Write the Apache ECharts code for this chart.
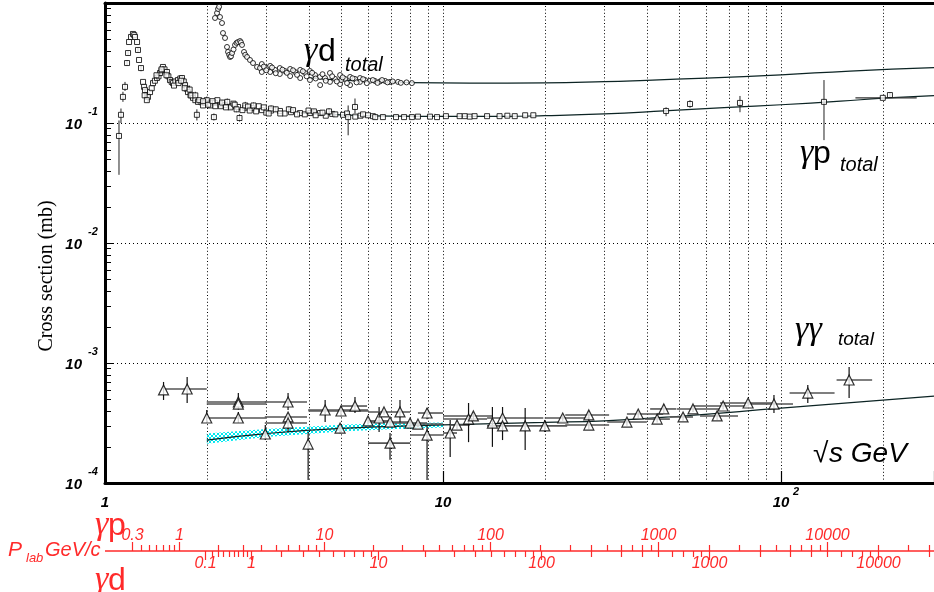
<!DOCTYPE html>
<html><head><meta charset="utf-8">
<script src="https://cdn.jsdelivr.net/npm/echarts@6/dist/echarts.min.js"></script>
<style>html,body{margin:0;padding:0;background:#fff}#c{width:934px;height:592px}</style>
</head><body><div id="c"></div>
<script>
// ---------- axis ranges & ticks ----------
const X_MIN = 1, X_MAX = 283.5, Y_MIN = 1e-4, Y_MAX = 1;
const X_GRID = [2,3,4,5,6,7,8,9,10,20,30,40,50,60,70,80,90,100,200];
const Y_GRID = [1e-1,1e-2,1e-3];
const X_LABELS = [[1,'1',''],[10,'10',''],[100,'10','2']];
const Y_LABELS = [[1e-1,'-1'],[1e-2,'-2'],[1e-3,'-3'],[1e-4,'-4']];
const Y_MINOR = [2e-4,3e-4,4e-4,5e-4,6e-4,7e-4,8e-4,9e-4,
                 2e-3,3e-3,4e-3,5e-3,6e-3,7e-3,8e-3,9e-3,
                 2e-2,3e-2,4e-2,5e-2,6e-2,7e-2,8e-2,9e-2,
                 0.2,0.3,0.4,0.5,0.6,0.7,0.8,0.9];
// lab-momentum scales (GeV/c)
const M_P = 0.93827, M_D = 1.87561;
const GP_TICKS = [0.3,0.4,0.5,0.6,0.7,0.8,0.9,1,2,3,4,5,6,7,8,9,10,20,30,40,50,60,70,80,90,
  100,200,300,400,500,600,700,800,900,1000,2000,3000,4000,5000,6000,7000,8000,9000,10000,20000,30000,40000];
const GP_LABELS = ['0.3','1','10','100','1000','10000'];
const GD_TICKS = [0.1,0.2,0.3,0.4,0.5,0.6,0.7,0.8,0.9,1,2,3,4,5,6,7,8,9,10,20,30,40,50,60,70,80,90,
  100,200,300,400,500,600,700,800,900,1000,2000,3000,4000,5000,6000,7000,8000,9000,10000,20000];
const GD_LABELS = ['0.1','1','10','100','1000','10000'];

// ---------- gamma p total: [sqrt_s, sigma(mb), err_lo, err_hi] ----------
const GP = [
 [1.100,0.078,0.037,0.105],[1.115,0.117,0.100,0.132],[1.130,0.165,0.150,0.182],[1.146,0.200,0.185,0.220],
 [1.162,0.316,0.300,0.335],[1.170,0.383,0.365,0.400],[1.178,0.473],[1.194,0.521],[1.210,0.552],[1.220,0.540],
 [1.227,0.521],[1.244,0.473],[1.252,0.406,0.385,0.425],[1.261,0.335],[1.278,0.287,0.270,0.300],[1.296,0.220],
 [1.305,0.200],[1.313,0.188,0.172,0.205],[1.330,0.170,0.158,0.182],[1.340,0.165,0.150,0.178],[1.359,0.181],
 [1.375,0.195],[1.387,0.215],[1.405,0.225],[1.425,0.237],[1.440,0.245],[1.455,0.261],[1.470,0.275],
 [1.484,0.293],[1.500,0.280],[1.525,0.266],[1.540,0.245],[1.557,0.228],[1.575,0.220],[1.589,0.215],
 [1.615,0.222],[1.644,0.228],[1.670,0.235],[1.690,0.237],[1.710,0.222],[1.725,0.207],[1.745,0.193],
 [1.760,0.181],[1.790,0.170],[1.821,0.162],[1.850,0.155],[1.884,0.150],[1.930,0.149],[1.977,0.147],
 [2.050,0.146],[2.116,0.147],[2.190,0.143],[2.265,0.141],[2.370,0.138],[2.475,0.136],[2.600,0.134],
 [2.722,0.133],[2.913,0.128],[3.100,0.127],[3.294,0.126],[3.550,0.123],[3.776,0.121],[4.050,0.121],
 [4.326,0.121],[4.700,0.119],[5.060,0.117],[5.700,0.115],[6.200,0.114],
 [1.310,0.170],[1.330,0.155],[1.420,0.250],[1.470,0.280],[1.520,0.250],[1.600,0.205],[1.650,0.215],
 [1.680,0.225],[1.720,0.195],[1.780,0.190,0.175,0.205],[1.800,0.170],[1.850,0.170,0.160,0.182],[1.900,0.155],
 [1.950,0.140],[2.000,0.155,0.145,0.166],[2.050,0.140],[2.150,0.155],[2.200,0.138],[2.300,0.150,0.140,0.160],
 [2.350,0.135],[2.400,0.145],[2.550,0.128],[2.600,0.140,0.132,0.150],[2.800,0.125],[2.850,0.138],
 [3.000,0.122],[3.100,0.132,0.125,0.140],[3.400,0.120],[3.500,0.130,0.123,0.138],[3.900,0.118],
 [4.000,0.127],[4.500,0.115],[4.600,0.125,0.118,0.133],[4.800,0.118],[5.500,0.113],[6.000,0.116],[6.300,0.112],
 [1.950,0.152],[2.020,0.142,0.135,0.150],[2.080,0.152],[2.120,0.138],[2.220,0.148,0.140,0.156],[2.280,0.135],
 [2.420,0.142],[2.450,0.130,0.123,0.137],[2.650,0.137],[2.680,0.127],[2.750,0.140,0.132,0.148],[2.950,0.135],
 [3.050,0.120],[3.200,0.130,0.124,0.137],[3.300,0.120],[3.600,0.128],[3.700,0.118],[4.150,0.125,0.119,0.131],
 [4.200,0.116],[4.400,0.122],[5.200,0.120],[5.800,0.118],
 [1.870,0.117,0.105,0.130],[2.100,0.112,0.105,0.120],[2.500,0.110,0.103,0.118],
 [5.240,0.112,0.079,0.140],[5.490,0.136,0.120,0.160],
 [6.64,0.112],[7.26,0.112],[7.67,0.112],[8.09,0.112],[8.43,0.113],[9.15,0.113],[9.60,0.112],[10.2,0.114],
 [11.2,0.114],[11.6,0.114],[12.0,0.113],[12.4,0.114],[13.5,0.114],[14.7,0.114],[15.5,0.115],[16.3,0.114],
 [17.5,0.116],[18.5,0.116],
 [45.7,0.126,0.114,0.135],[53.8,0.144,0.134,0.155],[75.6,0.147,0.123,0.168],[134,0.150,0.072,0.228],
 [200,0.162],[210,0.171,0.163,0.180]
];
// horizontal error: [sqrt_s, sigma, x_lo, x_hi]
const GP_XERR = [[200,0.162,166,252]];

// ---------- gamma d total: [sqrt_s, sigma(mb)] ----------
const GD = [
 [2.116,0.750],[2.145,0.825],[2.160,0.891],[2.175,0.930],[2.189,0.764],[2.219,0.681],[2.234,0.562],
 [2.265,0.511],[2.296,0.430],[2.312,0.391],[2.330,0.370],[2.344,0.355],[2.360,0.360],[2.376,0.383],
 [2.400,0.410],[2.425,0.447],[2.450,0.465],[2.475,0.473],[2.509,0.482],[2.525,0.470],[2.543,0.447],
 [2.578,0.391],[2.600,0.370],[2.632,0.355],[2.685,0.335],[2.741,0.316],[2.817,0.293],[2.875,0.287],
 [3.015,0.287],[3.184,0.277],[3.409,0.271],[3.650,0.266],[3.906,0.261],[4.182,0.251],[4.326,0.242],
 [4.476,0.237],[4.792,0.233],[5.13,0.233],[5.49,0.233],[5.88,0.228],[6.29,0.224],[6.74,0.224],
 [7.36,0.220],[8.09,0.215],
 [2.91,0.310],[2.91,0.266],[3.08,0.299],[3.08,0.266],[3.29,0.287],[3.29,0.256],[3.53,0.282],[3.53,0.246],
 [3.78,0.277],[3.78,0.237],[4.04,0.271],[4.04,0.228],[4.33,0.207],[4.63,0.261],[4.63,0.220],
 [4.96,0.251],[4.96,0.211],[5.31,0.242],[5.31,0.207],[5.68,0.237],[5.68,0.220],
 [5.00,0.228],[6.08,0.225],[6.51,0.222],[6.97,0.220],[7.80,0.218],
 [2.95,0.295],[3.00,0.275],[3.12,0.290],[3.20,0.260],[3.35,0.278],[3.45,0.262],[3.60,0.275],[3.70,0.252],
 [3.85,0.270],[3.95,0.245],[4.10,0.262],[4.20,0.235],[4.40,0.255],[4.50,0.225],[4.70,0.245],[4.85,0.222],
 [5.05,0.240],[5.20,0.215],[5.40,0.236],[5.55,0.218],[5.80,0.232],[5.95,0.215],[6.20,0.228],[6.40,0.216],
 [6.60,0.228],[6.85,0.218],[7.10,0.222],[7.50,0.216]
];

// ---------- gamma gamma total: [sqrt_s, sigma(mb), x_lo, x_hi, y_lo, y_hi] ----------
const GG = [
 [1.49,5.96e-4,1.49,1.49,4.92e-4,6.95e-4],[1.75,6.07e-4,1.50,2.00,4.64e-4,7.64e-4],
 [2.00,3.48e-4,2.00,2.00,3.16e-4,4.06e-4],[2.48,4.73e-4,2.00,3.00,4.30e-4,5.62e-4],
 [2.48,4.55e-4,2.00,3.00,4.10e-4,5.00e-4],[2.48,3.48e-4,2.00,3.00,3.16e-4,3.91e-4],
 [2.98,2.56e-4,2.98,2.98,2.28e-4,3.04e-4],[3.48,4.73e-4,2.97,3.96,4.06e-4,5.62e-4],
 [3.48,3.55e-4,2.97,3.96,3.29e-4,3.83e-4],[3.48,3.16e-4,2.97,3.96,2.66e-4,3.48e-4],
 [3.99,2.11e-4,3.99,3.99,1.06e-4,2.66e-4],[4.48,4.06e-4,3.99,6.00,3.22e-4,4.92e-4],
 [4.99,3.98e-4,4.00,6.00,3.60e-4,4.40e-4],[4.96,2.87e-4,4.96,4.96,2.60e-4,3.10e-4],
 [5.49,4.38e-4,5.00,5.96,3.83e-4,5.21e-4],[6.00,3.29e-4,6.00,6.97,3.10e-4,3.50e-4],
 [6.47,3.48e-4,6.47,6.47,2.66e-4,4.30e-4],[6.69,3.91e-4,6.00,7.99,3.70e-4,4.10e-4],
 [6.97,3.22e-4,6.00,7.99,3.00e-4,3.45e-4],[6.97,2.15e-4,6.00,7.99,1.56e-4,2.61e-4],
 [7.46,3.91e-4,7.46,7.46,3.16e-4,4.92e-4],[7.99,3.16e-4,7.11,8.97,2.95e-4,3.40e-4],
 [8.43,3.10e-4,7.99,10.0,2.90e-4,3.30e-4],[8.97,3.83e-4,8.43,10.0,3.40e-4,4.20e-4],
 [8.97,2.51e-4,7.99,10.0,1.06e-4,3.04e-4],[10.5,2.61e-4,10.0,11.0,1.65e-4,3.35e-4],
 [11.0,3.04e-4,10.5,12.0,2.80e-4,3.30e-4],[11.9,3.41e-4,10.0,13.5,2.19e-4,4.64e-4],
 [12.3,3.62e-4,10.0,14.0,3.30e-4,3.90e-4],[14.0,3.16e-4,14.0,14.0,2.00e-4,4.30e-4],
 [15.0,3.48e-4,13.5,19.8,2.28e-4,4.30e-4],[15.0,2.99e-4,13.5,16.9,2.80e-4,3.20e-4],
 [17.5,2.99e-4,17.5,17.5,1.88e-4,4.22e-4],[20.0,2.99e-4,16.9,23.3,2.66e-4,3.35e-4],
 [22.6,3.48e-4,20.0,27.2,3.30e-4,3.70e-4],[27.0,3.69e-4,23.0,31.0,3.40e-4,4.00e-4],
 [27.0,3.04e-4,23.0,31.0,2.80e-4,3.30e-4],[35.0,3.22e-4,30.6,40.1,3.00e-4,3.45e-4],
 [37.8,3.76e-4,35.0,44.8,3.50e-4,4.00e-4],[43.0,3.41e-4,39.5,46.9,3.20e-4,3.70e-4],
 [45.0,4.14e-4,41.0,49.0,3.80e-4,4.50e-4],[51.3,3.55e-4,46.9,54.9,3.30e-4,3.80e-4],
 [54.9,4.14e-4,49.2,66.0,3.90e-4,4.40e-4],[64.7,3.62e-4,57.6,74.6,3.35e-4,3.90e-4],
 [67.4,4.38e-4,54.9,79.3,4.10e-4,4.70e-4],[79.9,4.64e-4,66.0,94.7,4.35e-4,4.95e-4],
 [95.3,4.55e-4,79.9,108.5,3.83e-4,5.41e-4],[120,5.62e-4,106,144,4.64e-4,6.56e-4],
 [159,7.22e-4,146,186,5.11e-4,9.26e-4]
];

// ---------- fits ----------
const GP_FIT = [[3.8,0.121],[5,0.117],[7,0.114],[10,0.1135],[15,0.1135],[20,0.115],[30,0.119],
  [45,0.126],[70,0.135],[100,0.142],[150,0.152],[200,0.161],[283.5,0.169]];
const GD_FIT = [[4,0.238],[5,0.228],[6,0.222],[8,0.217],[12,0.215],[20,0.216],[30,0.221],[40,0.227],
  [60,0.237],[100,0.252],[160,0.271],[283.5,0.289]];
const GG_FIT = [[2,2.28e-4],[3,2.58e-4],[5,2.85e-4],[10,3.05e-4],[20,3.2e-4],[30,3.3e-4],[50,3.6e-4],
  [100,4.2e-4],[200,4.9e-4],[283.5,5.3e-4]];
// uncertainty band of the gamma-gamma fit: [sqrt_s, lo, hi]
const GG_BAND = [[2,2.12e-4,2.58e-4],[3,2.42e-4,2.82e-4],[5,2.68e-4,3.06e-4],[7,2.8e-4,3.16e-4],[10,2.9e-4,3.2e-4]];

// ---------- helpers ----------
const FONT = '"Liberation Sans", Arial, sans-serif';
const SERIF = '"Liberation Serif", "Times New Roman", serif';
const RED = '#ff2a2a';
const sqrtS = (m, p) => Math.sqrt(m * m + 2 * m * p);
const px = v => Math.round(v) + 0.5;
function ln(x1, y1, x2, y2, stroke, w, dash) {
  const s = { stroke: stroke, lineWidth: w };
  if (dash) s.lineDash = dash;
  return { type: 'line', shape: { x1, y1, x2, y2 }, style: s };
}
function txt(text, x, y, font, fill, align, valign) {
  return { type: 'text', style: { text, x, y, font, fill: fill || '#000',
    align: align, verticalAlign: valign, textAlign: align, textVerticalAlign: valign } };
}
function gtxt(text, x, y, font, fill) {
  return { type: 'text', x: x, y: y, style: { text, font, fill: fill || '#000',
    verticalAlign: 'middle', textVerticalAlign: 'middle' } };
}
// hatch pattern for the band
const pat = document.createElement('canvas');
pat.width = 4; pat.height = 4;
(function () {
  const c = pat.getContext('2d');
  c.strokeStyle = '#00e8f0'; c.lineWidth = 1;
  c.beginPath(); c.moveTo(0, 0); c.lineTo(4, 4); c.moveTo(4, 0); c.lineTo(0, 4); c.stroke();
})();

const chart = echarts.init(document.getElementById('c'), null, { renderer: 'canvas' });

const series = [
  // vertical dotted grid
  { type: 'custom', z: 1, silent: true, data: X_GRID.map(v => [v, Y_MIN]),
    renderItem: (p, api) => {
      const a = api.coord([api.value(0), Y_MIN]), b = api.coord([api.value(0), Y_MAX]);
      return ln(px(a[0]), a[1], px(b[0]), b[1], '#000', 1, [1, 2.4]);
    } },
  // horizontal dotted grid
  { type: 'custom', z: 1, silent: true, data: Y_GRID.map(v => [X_MIN, v]),
    renderItem: (p, api) => {
      const a = api.coord([X_MIN, api.value(1)]), b = api.coord([X_MAX, api.value(1)]);
      return ln(a[0], px(a[1]), b[0], px(b[1]), '#000', 1, [1, 3]);
    } },
  // y minor ticks
  { type: 'custom', z: 3, silent: true, data: Y_MINOR.map(v => [X_MIN, v]),
    renderItem: (p, api) => {
      const a = api.coord([X_MIN, api.value(1)]);
      return ln(a[0], px(a[1]), a[0] + 6, px(a[1]), '#000', 1);
    } },
  // y labels 10^n
  { type: 'custom', z: 3, silent: true, data: Y_LABELS.map(d => [X_MIN, d[0]]),
    renderItem: (p, api) => {
      const a = api.coord([X_MIN, api.value(1)]);
      const e = Y_LABELS[p.dataIndex][1];
      return { type: 'group', children: [
        txt('10', a[0] - 23, a[1] + 2, 'italic bold 15px ' + FONT, '#000', 'right', 'middle'),
        txt(e, a[0] - 17, a[1] - 11, 'italic bold 11px ' + FONT, '#000', 'left', 'middle')
      ] };
    } },
  // x labels
  { type: 'custom', z: 3, silent: true, data: X_LABELS.map(d => [d[0], Y_MIN]),
    renderItem: (p, api) => {
      const a = api.coord([api.value(0), Y_MIN]);
      const d = X_LABELS[p.dataIndex];
      const ch = [txt(d[1], a[0], a[1] + 20, 'italic bold 15px ' + FONT, '#000', 'center', 'middle')];
      if (d[2]) ch.push(txt(d[2], a[0] + 12, a[1] + 9, 'italic bold 11px ' + FONT, '#000', 'left', 'middle'));
      return { type: 'group', children: ch };
    } },
  // red lab-momentum axes
  { type: 'custom', z: 3, silent: true, data: [[X_MIN, Y_MIN]],
    renderItem: (p, api) => {
      const a0 = api.coord([X_MIN, Y_MIN]), a1 = api.coord([X_MAX, Y_MIN]);
      const yl = a0[1] + 68;
      const ch = [ln(a0[0], yl, a1[0], yl, RED, 1.6)];
      GP_TICKS.forEach(m => {
        const x = px(api.coord([sqrtS(M_P, m), Y_MIN])[0]);
        const major = GP_LABELS.indexOf(String(m)) >= 0;
        ch.push(ln(x, yl, x, yl - (major ? 9 : 6), RED, 1.2));
        if (major) ch.push(txt(String(m), x, yl - 15, 'italic 16px ' + FONT, RED, 'center', 'middle'));
      });
      GD_TICKS.forEach(m => {
        const x = px(api.coord([sqrtS(M_D, m), Y_MIN])[0]);
        const major = GD_LABELS.indexOf(String(m)) >= 0;
        ch.push(ln(x, yl, x, yl + (major ? 9 : 6), RED, 1.2));
        if (major) ch.push(txt(String(m), x, yl + 13, 'italic 16px ' + FONT, RED, 'center', 'middle'));
      });
      return { type: 'group', children: ch };
    } },
  // gamma-gamma band
  { type: 'custom', z: 2, silent: true, data: [[X_MIN, Y_MIN]],
    renderItem: (p, api) => {
      const pts = GG_BAND.map(d => api.coord([d[0], d[2]]))
        .concat(GG_BAND.slice().reverse().map(d => api.coord([d[0], d[1]])));
      return { type: 'polygon', shape: { points: pts },
        style: { fill: { image: pat, repeat: 'repeat' }, stroke: null } };
    } },
  // fits
  { type: 'line', z: 4, data: GP_FIT, smooth: true, showSymbol: false, silent: true,
    lineStyle: { color: '#0c2424', width: 1.2 } },
  { type: 'line', z: 4, data: GD_FIT, smooth: true, showSymbol: false, silent: true,
    lineStyle: { color: '#0c2424', width: 1.2 } },
  { type: 'line', z: 4, data: GG_FIT, smooth: true, showSymbol: false, silent: true,
    lineStyle: { color: '#0c2424', width: 1.2 } },
  // gamma p error bars
  { type: 'custom', z: 5, silent: true, data: GP.filter(d => d.length > 2),
    renderItem: (p, api) => {
      const a = api.coord([api.value(0), api.value(2)]), b = api.coord([api.value(0), api.value(3)]);
      return ln(a[0], a[1], b[0], b[1], '#222', 1);
    } },
  { type: 'custom', z: 5, silent: true, data: GP_XERR,
    renderItem: (p, api) => {
      const a = api.coord([api.value(2), api.value(1)]), b = api.coord([api.value(3), api.value(1)]);
      return ln(a[0], a[1], b[0], b[1], '#333', 1.2);
    } },
  // gamma gamma error bars
  { type: 'custom', z: 5, silent: true, data: GG,
    renderItem: (p, api) => {
      const s = api.value(0), v = api.value(1);
      const h1 = api.coord([api.value(2), v]), h2 = api.coord([api.value(3), v]);
      const v1 = api.coord([s, api.value(4)]), v2 = api.coord([s, api.value(5)]);
      return { type: 'group', children: [
        ln(h1[0], h1[1], h2[0], h2[1], '#555', 1.6),
        ln(v1[0], v1[1], v2[0], v2[1], '#111', 1.2)
      ] };
    } },
  // markers
  { type: 'scatter', z: 6, data: GP.map(d => [d[0], d[1]]), symbol: 'rect', symbolSize: 5, silent: true,
    itemStyle: { color: '#fff', borderColor: '#000', borderWidth: 1 } },
  { type: 'scatter', z: 6, data: GD, symbol: 'circle', symbolSize: 5, silent: true,
    itemStyle: { color: '#fff', borderColor: '#000', borderWidth: 1 } },
  { type: 'scatter', z: 6, data: GG.map(d => [d[0], d[1]]), symbol: 'triangle', symbolSize: [10, 10], silent: true,
    itemStyle: { color: '#fff', borderColor: '#000', borderWidth: 1.2 } }
];

const G = 'italic 34px ' + SERIF;
const option = {
  animation: false,
  backgroundColor: '#fff',
  grid: { left: 105, right: 0, top: 3, bottom: 109, show: false },
  xAxis: [
    { type: 'log', logBase: 10, min: X_MIN, max: X_MAX, position: 'bottom',
      axisLine: { show: true, onZero: false, lineStyle: { color: '#000', width: 3 } },
      axisLabel: { show: false }, splitLine: { show: false },
      axisTick: { show: true, inside: true, length: 12, lineStyle: { color: '#000', width: 1.2 } } },
    { type: 'log', logBase: 10, min: X_MIN, max: X_MAX, position: 'top',
      axisLine: { show: true, onZero: false, lineStyle: { color: '#000', width: 3 } },
      axisLabel: { show: false }, splitLine: { show: false }, axisTick: { show: false } }
  ],
  yAxis: { type: 'log', logBase: 10, min: Y_MIN, max: Y_MAX,
    axisLine: { show: true, onZero: false, lineStyle: { color: '#000', width: 3 } },
    axisLabel: { show: false },
    axisTick: { show: true, inside: true, length: 8, lineStyle: { color: '#000', width: 1 } },
    splitLine: { show: false } },
  graphic: [
    { type: 'text', x: 47, y: 276, rotation: Math.PI / 2,
      style: { text: 'Cross section (mb)', font: '20px ' + SERIF, fill: '#000',
        align: 'center', verticalAlign: 'middle', textAlign: 'center', textVerticalAlign: 'middle' } },
    gtxt('γ', 304, 51, G),
    gtxt('d', 318, 52, '32px ' + FONT),
    gtxt('total', 345, 65, 'italic 20px ' + FONT),
    gtxt('γ', 800, 153, G),
    gtxt('p', 813, 154, '32px ' + FONT),
    gtxt('total', 840, 165, 'italic 20px ' + FONT),
    gtxt('γγ', 795, 330, G),
    gtxt('total', 838, 340, 'italic 19px ' + FONT),
    gtxt('√', 813, 454, '28px ' + FONT),
    gtxt('s GeV', 829, 454, 'italic 28px ' + FONT),
    gtxt('γ', 95, 525, G, RED),
    gtxt('p', 108, 526, '32px ' + FONT, RED),
    gtxt('P', 8, 550, 'italic 21px ' + FONT, RED),
    gtxt('lab', 26, 558, 'italic 13px ' + FONT, RED),
    gtxt('GeV/c', 45, 550, 'italic 20px ' + FONT, RED),
    gtxt('γ', 95, 580, G, RED),
    gtxt('d', 108, 581, '32px ' + FONT, RED)
  ],
  series: series
};
chart.setOption(option);
</script></body></html>
